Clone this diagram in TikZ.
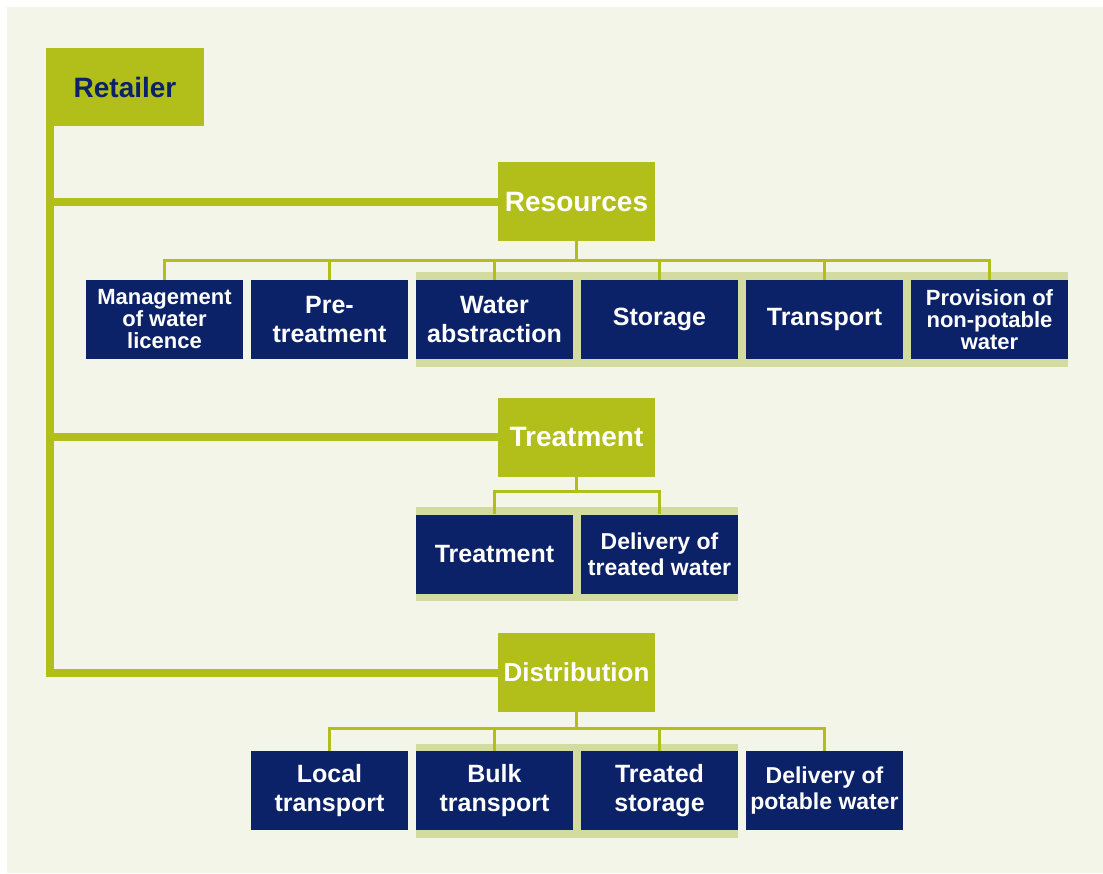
\documentclass[tikz,border=0pt]{standalone}
\usepackage{fontspec}
\setmainfont{Liberation Sans}
\usetikzlibrary{backgrounds}
\definecolor{paper}{HTML}{F3F5E9}
\definecolor{olive}{HTML}{B2BE19}
\definecolor{navy}{HTML}{0C2268}
\definecolor{bandgreen}{HTML}{D4DBA0}
\newcommand{\fs}[1]{\fontsize{#1}{#1}\selectfont}
\begin{document}
\begin{tikzpicture}[x=1pt,y=-1pt,
  every node/.style={rectangle,align=center,inner sep=0pt,minimum width=157pt,minimum height=79pt},
  head/.style={fill=olive,text=white,font=\bfseries\fontsize{28}{30}\selectfont},
  task/.style={fill=navy,text=white,font=\bfseries\fontsize{25}{29}\selectfont},
  small/.style={font=\bfseries\fontsize{22}{22}\selectfont},
  mid/.style={font=\bfseries\fontsize{23}{26}\selectfont},
  spine/.style={draw=olive,line width=8pt},
  link/.style={draw=olive,line width=3pt},
  band/.style={fill=bandgreen}]
\useasboundingbox (0,0) rectangle (1103,873);
\node[head,text=navy,minimum width=158pt,minimum height=78pt] (retailer) at (125,87) {Retailer};
\node[head]            (res)    at (576.5,201.5) {Resources};
\node[head]            (treat)  at (576.5,437)   {Treatment};
\node[head,font=\bfseries\fs{26}] (dist) at (576.5,672.5) {Distribution};
\node[task,small]      (mgmt)   at (164.5,319.5) {Management\\of water\\licence};
\node[task]            (pretr)  at (329.5,319.5) {Pre-\\treatment};
\node[task]            (abstr)  at (494.5,319.5) {Water\\abstraction};
\node[task]            (stor)   at (659.5,319.5) {Storage};
\node[task]            (transp) at (824.5,319.5) {Transport};
\node[task,small]      (prov)   at (989.5,319.5) {Provision of\\non-potable\\water};
\node[task]            (trtm)   at (494.5,554)   {Treatment};
\node[task,mid]        (deltr)  at (659.5,554)   {Delivery of\\treated water};
\node[task]            (local)  at (329.5,790.5) {Local\\transport};
\node[task]            (bulk)   at (494.5,790.5) {Bulk\\transport};
\node[task]            (tstor)  at (659.5,790.5) {Treated\\storage};
\node[task,mid]        (delpo)  at (824.5,790.5) {Delivery of\\potable water};
\coordinate (trunk) at (50,126);
\begin{scope}[on background layer]
\fill[paper] (7,7) rectangle (1103,873);
\fill[band] ([yshift=8pt]abstr.north west) rectangle ([yshift=-8pt]prov.south east);
\fill[band] ([yshift=7pt]trtm.north west) rectangle ([yshift=-7pt]deltr.south east);
\fill[band] ([yshift=7pt]bulk.north west) rectangle ([yshift=-8pt]tstor.south east);
\end{scope}
\foreach \n in {res,treat,dist}
  \draw[spine] (trunk) |- (\n.west);
\foreach \n in {mgmt,pretr,abstr,stor,transp,prov}
  \draw[link] (res.south) -- ++(0,19) -| (\n.north);
\foreach \n in {trtm,deltr}
  \draw[link] (treat.south) -- ++(0,15) -| (\n.north);
\foreach \n in {local,bulk,tstor,delpo}
  \draw[link] (dist.south) -- ++(0,16) -| (\n.north);
\end{tikzpicture}
\end{document}
